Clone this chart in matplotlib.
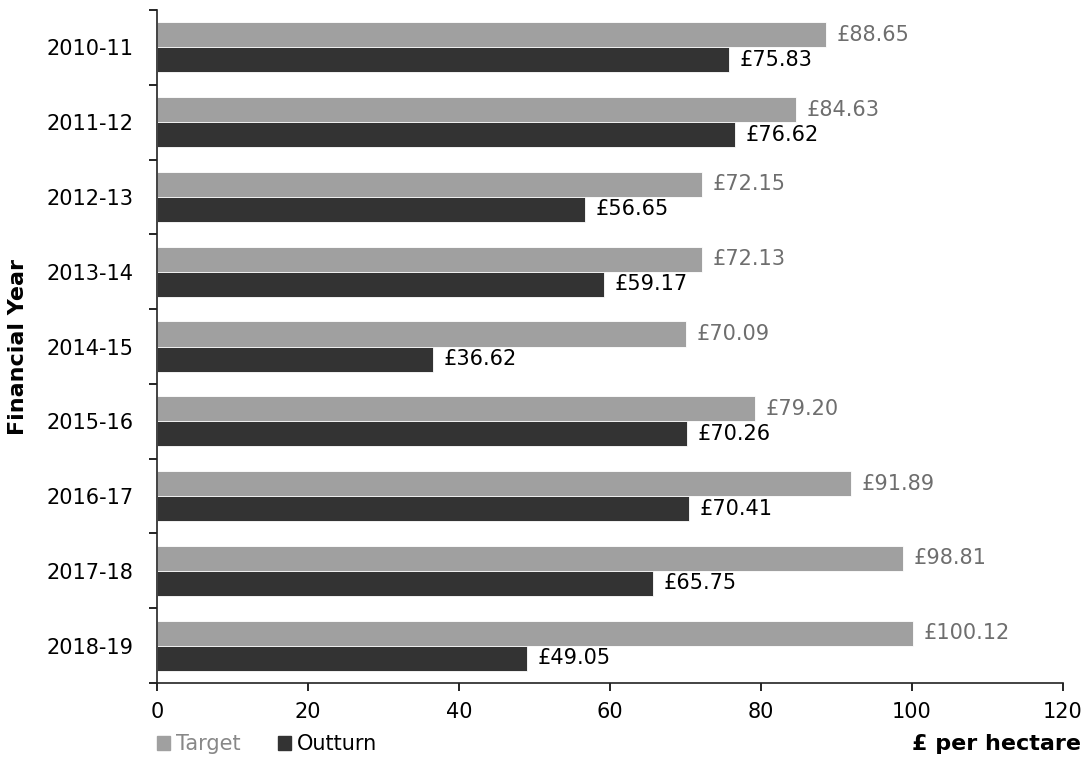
import matplotlib
matplotlib.use("Agg")
import matplotlib.pyplot as plt
import numpy as np
from matplotlib.patches import Patch

years = ["2010-11", "2011-12", "2012-13", "2013-14", "2014-15", "2015-16", "2016-17", "2017-18", "2018-19"]
target = [88.65, 84.63, 72.15, 72.13, 70.09, 79.20, 91.89, 98.81, 100.12]
outturn = [75.83, 76.62, 56.65, 59.17, 36.62, 70.26, 70.41, 65.75, 49.05]

c_target = "#a0a0a0"
c_out = "#333333"

fig = plt.figure(figsize=(10.91, 7.58), dpi=100)
ax = fig.add_axes([0.1439, 0.0989, 0.8304, 0.8879])

y = np.arange(len(years))
h = 0.335
ax.barh(y - h / 2, target, height=h, color=c_target, edgecolor="white", linewidth=0.6)
ax.barh(y + h / 2, outturn, height=h, color=c_out, edgecolor="white", linewidth=0.6)

for yi, t, o in zip(y, target, outturn):
    ax.text(t + 1.4, yi - h / 2, f"£{t:.2f}", va="center", ha="left", fontsize=15, color="#6e6e6e")
    ax.text(o + 1.4, yi + h / 2, f"£{o:.2f}", va="center", ha="left", fontsize=15, color="black")

ax.set_xlim(0, 120)
ax.set_ylim(len(years) - 0.5, -0.5)
ax.set_xticks([0, 20, 40, 60, 80, 100, 120])
ax.tick_params(axis="x", labelsize=15, length=6, width=1.2, pad=8, colors="black")
ax.set_yticks(y)
ax.set_yticklabels(years, fontsize=15)
ax.tick_params(axis="y", length=0, pad=17)
ax.set_yticks(np.arange(-0.5, len(years)), minor=True)
ax.tick_params(axis="y", which="minor", length=6, width=1.2)

for s in ["top", "right"]:
    ax.spines[s].set_visible(False)
for s in ["left", "bottom"]:
    ax.spines[s].set_linewidth(1.2)
    ax.spines[s].set_color("#222222")

ax.set_ylabel("Financial Year", fontsize=16, fontweight="bold")
ax.yaxis.set_label_coords(-0.142, 0.5)

fig.text(0.991, 0.018, "£ per hectare", ha="right", va="center", fontsize=16, fontweight="bold")

handles = [Patch(color=c_target, label="Target"), Patch(color=c_out, label="Outturn")]
leg = fig.legend(handles=handles, loc="center left", bbox_to_anchor=(0.127, 0.018), ncol=2,
                 frameon=False, fontsize=15, handlelength=0.6, handleheight=0.6,
                 handletextpad=0.3, columnspacing=1.8)
leg.get_texts()[0].set_color("#888888")

fig.savefig("out.png", dpi=100)
